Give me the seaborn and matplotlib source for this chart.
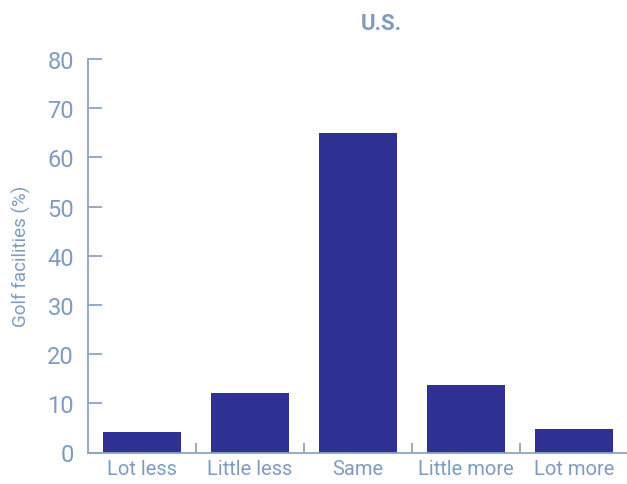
import matplotlib
matplotlib.use("Agg")
import matplotlib.pyplot as plt
import seaborn as sns
import pandas as pd
from matplotlib.ticker import FixedLocator

categories = ["Lot less", "Little less", "Same", "Little more", "Lot more"]
values = [4.2, 12.1, 65.0, 13.7, 4.8]
title = "U.S."
ylabel = "Golf facilities (%)"

sns.set_theme(style="white")
plt.rcParams['font.family'] = ['Roboto', 'DejaVu Sans']

text_c = "#7f9cc0"
axis_c = "#8ea5c3"
bar_c = "#2e3192"

df = pd.DataFrame({"cat": categories, "val": values})

fig = plt.figure(figsize=(6.27, 4.85), dpi=100)
ax = fig.add_axes([88/627, 1-453.5/485, 540/627, (453.5-60)/485])
sns.barplot(data=df, x="cat", y="val", color=bar_c, width=0.72, saturation=1,
            edgecolor="none", linewidth=0, ax=ax)

ax.set_xlim(-0.5, 4.5)
ax.set_ylim(0, 80)
ax.set_yticks(range(0, 81, 10))
ax.set_xlabel("")
ax.set_ylabel(ylabel, color=text_c, fontsize=13.5, labelpad=12)

for s in ["top", "right"]:
    ax.spines[s].set_visible(False)
for s in ["left", "bottom"]:
    ax.spines[s].set_color(axis_c)
    ax.spines[s].set_linewidth(1.3)

ax.tick_params(axis="y", direction="in", length=10, width=1.3, color=axis_c,
               labelcolor=text_c, labelsize=17, left=True)
ax.yaxis.set_tick_params(pad=10)
ax.tick_params(axis="x", which="major", length=0, labelcolor=text_c, labelsize=14.5, pad=5, bottom=True)
ax.xaxis.set_minor_locator(FixedLocator([0.5, 1.5, 2.5, 3.5]))
ax.tick_params(axis="x", which="minor", direction="in", length=7, width=1.3, color=axis_c, bottom=True)

fig.text(381/627, 1-24/485, title, ha="center", va="center", color=text_c,
         fontsize=16, fontweight="bold")

fig.savefig("out.png", dpi=100)
